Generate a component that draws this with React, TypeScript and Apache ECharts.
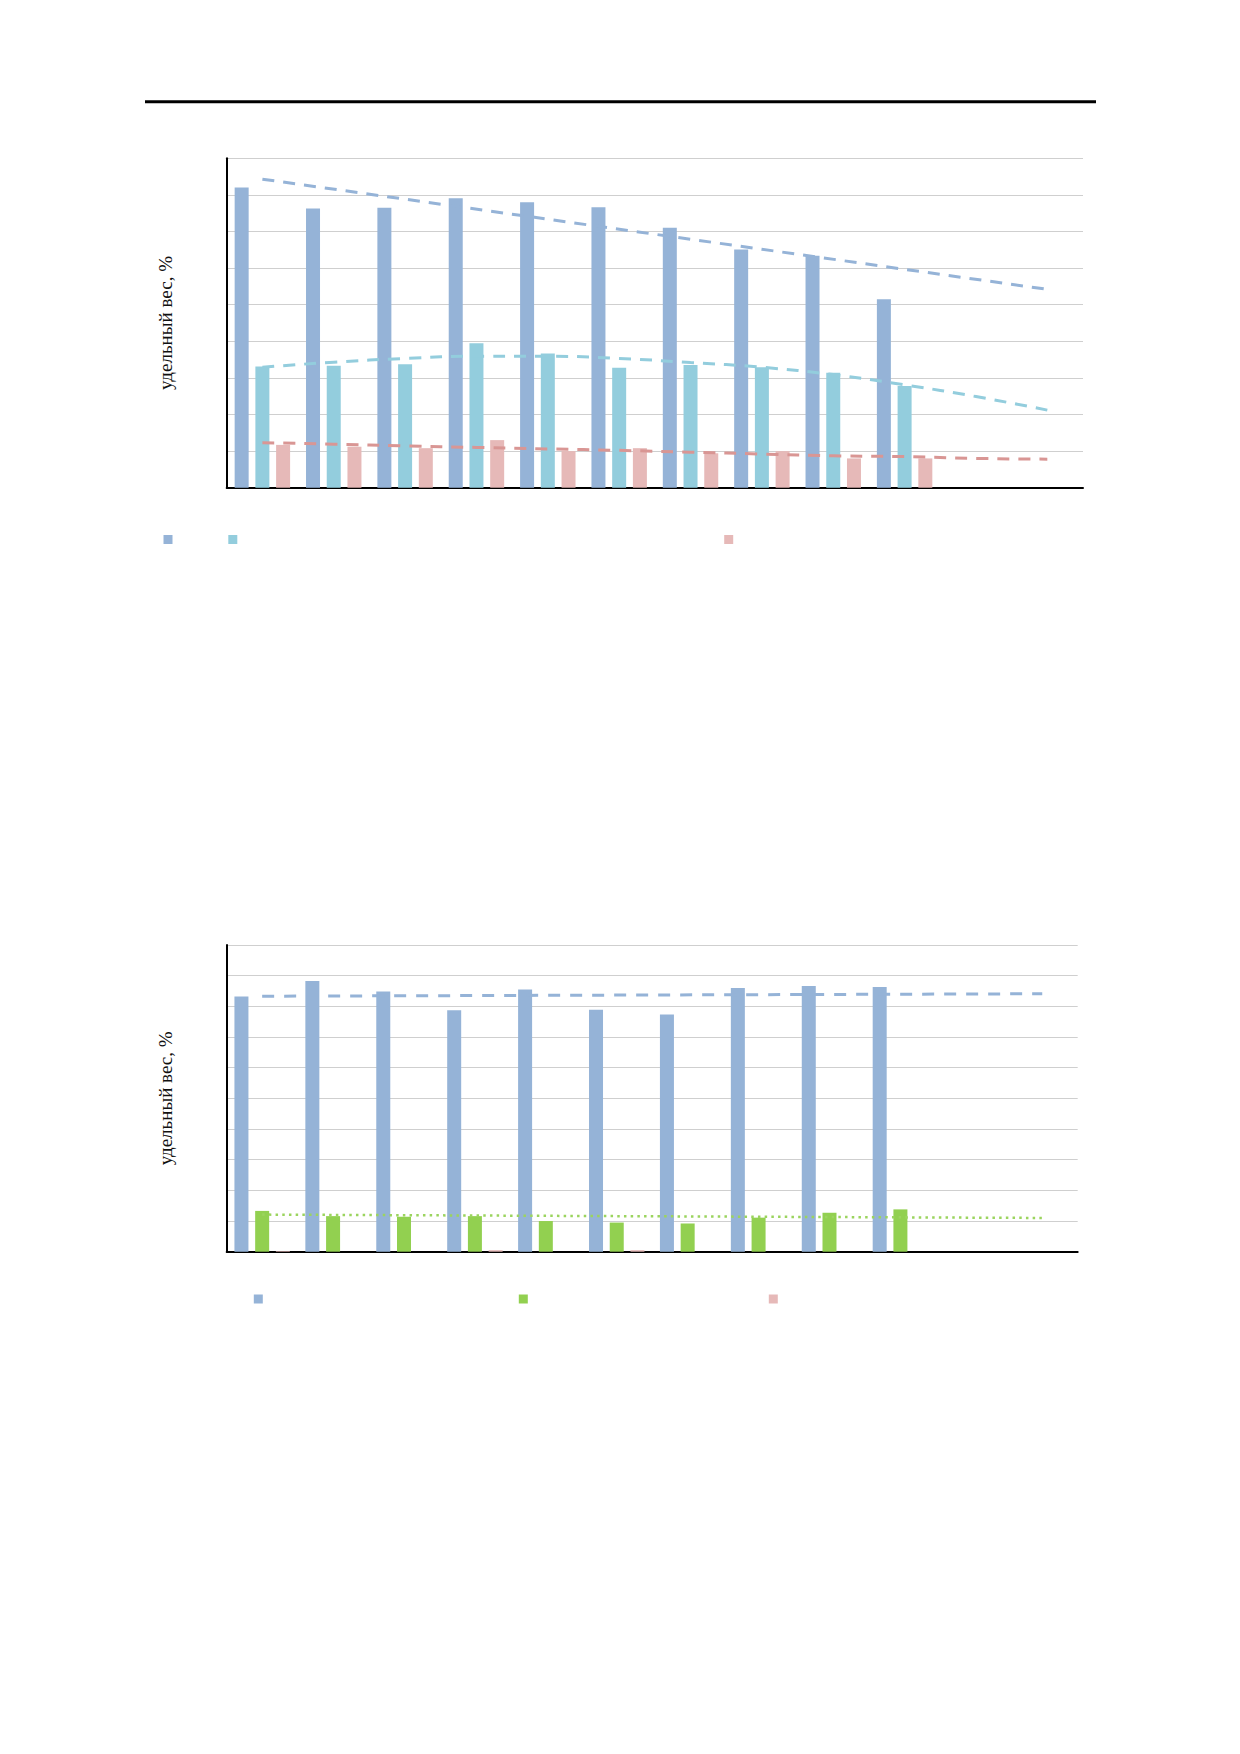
import React, { useEffect, useRef } from "react";
import * as echarts from "echarts";

// ---- Data ----
const categories = ["1", "2", "3", "4", "5", "6", "7", "8", "9", "10", "11", "12"];

// Chart 1 bars
const c1Blue = [82.0, 76.3, 76.5, 79.1, 78.0, 76.6, 71.0, 65.1, 63.4, 51.5];
const c1Cyan = [33.1, 33.3, 33.7, 39.5, 36.7, 32.8, 33.5, 32.9, 31.4, 27.8];
const c1Pink = [11.7, 11.2, 10.8, 13.0, 10.0, 10.8, 9.4, 10.0, 8.0, 8.0];
// Chart 1 trend lines
const c1BlueTrend = [84.3, null, null, null, null, null, null, null, null, null, null, 54.2];
const c1CyanTrend = [32.9, 34.3, 35.3, 35.9, 35.9, 35.3, 34.2, 32.9, 30.9, 28.1, 24.9, 21.2];
const c1PinkTrend = [12.3, 11.9, 11.4, 11.0, 10.6, 10.2, 9.7, 9.2, 8.7, 8.5, 8.0, 7.8];

// Chart 2 bars
const c2Blue = [83.2, 88.3, 84.8, 78.7, 85.5, 78.9, 77.3, 86.0, 86.6, 86.3];
const c2Green = [13.3, 11.6, 11.4, 11.6, 10.0, 9.5, 9.2, 11.1, 12.7, 13.8];
const c2Pink = [0.2, 0, 0, 0.5, 0, 0.5, 0, 0, 0, 0];
// Chart 2 trend lines
const c2BlueTrend = [83.3, null, null, null, null, null, null, null, null, null, null, 84.1];
const c2GreenTrend = [12.1, null, null, null, null, null, null, null, null, null, null, 11.0];

const yAxisName = "удельный вес, %";

const BLUE = "#95B3D7";
const CYAN = "#93CDDD";
const PINK = "#E6B9B8";
const PINK_TREND = "#D99694";
const GREEN = "#92D050";
const GREEN_TREND = "#9BD45E";

export default function App() {
  const ref = useRef<HTMLDivElement>(null);

  useEffect(() => {
    if (!ref.current) return;
    const chart = echarts.init(ref.current, null, { renderer: "svg" });

    const legendItem = (name: string, cx: number, cy: number) => ({
      data: [{ name, icon: "rect" }],
      left: cx - 4.5,
      top: cy - 4.5,
      padding: 0,
      itemWidth: 9,
      itemHeight: 9,
      selectedMode: false,
      formatter: () => "",
      textStyle: { fontSize: 1 },
    });

    const xAxisBase = {
      type: "category",
      data: categories,
      axisLine: { show: true, lineStyle: { color: "#000", width: 2 } },
      axisTick: { show: false },
      axisLabel: { show: false },
      splitLine: { show: false },
    };

    const yAxisBase = {
      type: "value",
      min: 0,
      interval: 10,
      name: yAxisName,
      nameLocation: "middle",
      nameGap: 52,
      nameTextStyle: {
        fontFamily: "Liberation Serif",
        fontSize: 19,
        color: "#111",
      },
      axisLine: { show: true, lineStyle: { color: "#000", width: 2 } },
      axisTick: { show: false },
      axisLabel: { show: false },
      splitLine: { show: true, lineStyle: { color: "#CFCFCF", width: 1 } },
    };

    const barBase = { type: "bar", barWidth: 14, barGap: "48%" };
    const lineBase = {
      type: "line",
      showSymbol: false,
      symbol: "none",
      connectNulls: true,
      silent: true,
    };

    chart.setOption({
      animation: false,
      backgroundColor: "#fff",
      grid: [
        { left: 226.7, top: 158.3, width: 856.3, height: 329.4 },
        { left: 226.7, top: 945, width: 851, height: 306.7 },
      ],
      xAxis: [
        { ...xAxisBase, gridIndex: 0 },
        { ...xAxisBase, gridIndex: 1 },
      ],
      yAxis: [
        { ...yAxisBase, gridIndex: 0, max: 90 },
        { ...yAxisBase, gridIndex: 1, max: 100 },
      ],
      legend: [
        legendItem("c1a", 168, 539.5),
        legendItem("c1b", 232.8, 539.5),
        legendItem("c1c", 728.7, 539.5),
        legendItem("c2a", 258.3, 1299),
        legendItem("c2b", 523.3, 1299),
        legendItem("c2c", 773.3, 1299),
      ],
      graphic: [
        {
          type: "line",
          shape: { x1: 145, y1: 101.7, x2: 1096, y2: 101.7 },
          style: { stroke: "#000", lineWidth: 3 },
        },
      ],
      series: [
        { ...barBase, name: "c1a", xAxisIndex: 0, yAxisIndex: 0, data: c1Blue, itemStyle: { color: BLUE } },
        { ...barBase, name: "c1b", xAxisIndex: 0, yAxisIndex: 0, data: c1Cyan, itemStyle: { color: CYAN } },
        { ...barBase, name: "c1c", xAxisIndex: 0, yAxisIndex: 0, data: c1Pink, itemStyle: { color: PINK } },
        {
          ...lineBase,
          name: "t1a",
          xAxisIndex: 0,
          yAxisIndex: 0,
          data: c1BlueTrend,
          lineStyle: { color: BLUE, width: 3, type: [12, 9] },
        },
        {
          ...lineBase,
          name: "t1b",
          xAxisIndex: 0,
          yAxisIndex: 0,
          smooth: true,
          data: c1CyanTrend,
          lineStyle: { color: CYAN, width: 3, type: [12, 9] },
        },
        {
          ...lineBase,
          name: "t1c",
          xAxisIndex: 0,
          yAxisIndex: 0,
          smooth: true,
          data: c1PinkTrend,
          lineStyle: { color: PINK_TREND, width: 3, type: [12, 9] },
        },
        { ...barBase, name: "c2a", xAxisIndex: 1, yAxisIndex: 1, data: c2Blue, itemStyle: { color: BLUE } },
        { ...barBase, name: "c2b", xAxisIndex: 1, yAxisIndex: 1, data: c2Green, itemStyle: { color: GREEN } },
        { ...barBase, name: "c2c", xAxisIndex: 1, yAxisIndex: 1, data: c2Pink, itemStyle: { color: PINK } },
        {
          ...lineBase,
          name: "t2a",
          xAxisIndex: 1,
          yAxisIndex: 1,
          data: c2BlueTrend,
          lineStyle: { color: BLUE, width: 3, type: [12, 10] },
        },
        {
          ...lineBase,
          name: "t2b",
          xAxisIndex: 1,
          yAxisIndex: 1,
          data: c2GreenTrend,
          lineStyle: { color: GREEN_TREND, width: 2.5, type: [2.5, 4.2] },
        },
      ],
    });

    return () => chart.dispose();
  }, []);

  return (
    <div
      ref={ref}
      style={{ position: "absolute", left: 0, top: 0, width: 1240, height: 1754 }}
    />
  );
}
